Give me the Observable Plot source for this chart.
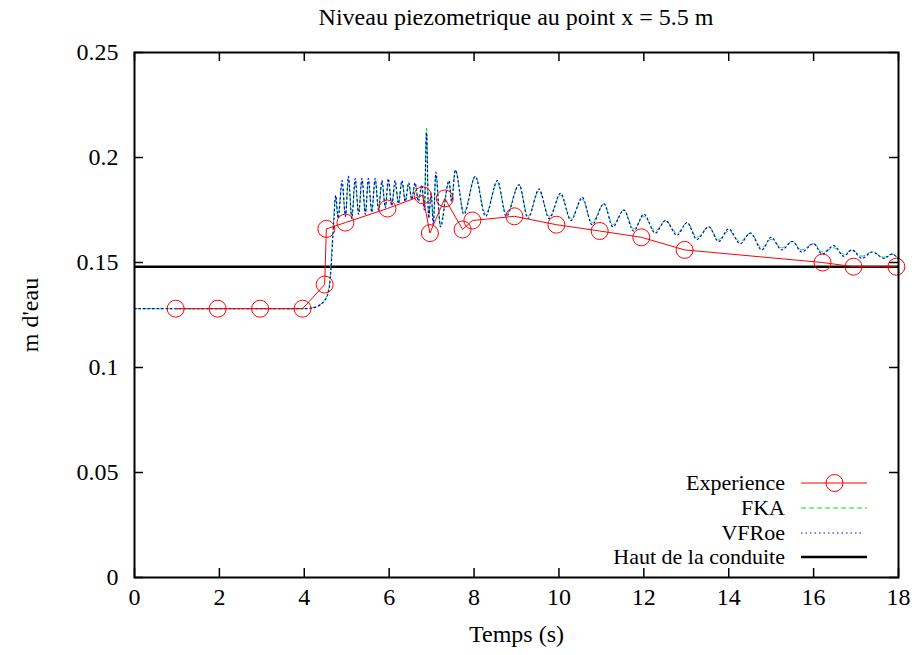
<!DOCTYPE html>
<html>
<head>
<meta charset="utf-8">
<script src="https://cdn.jsdelivr.net/npm/d3@7"></script>
<script src="https://cdn.jsdelivr.net/npm/@observablehq/plot@0.6"></script>
<style>
  body { margin: 0; background: #fff; font-family: "Liberation Serif", "DejaVu Serif", serif; }
  #title { height: 34px; line-height: 34px; margin-left: 134px; width: 764px; text-align: center; font-size: 24px; color: #000; font-family: "Liberation Serif", "DejaVu Serif", serif; }
</style>
</head>
<body>
<div id="title">Niveau piezometrique au point x = 5.5 m</div>
<div id="chart"></div>
<script>
// ---- Data ----
const xTicks = [0, 2, 4, 6, 8, 10, 12, 14, 16, 18];
const yTicks = [0, 0.05, 0.1, 0.15, 0.2, 0.25];
const yTickLabels = ["0", "0.05", "0.1", "0.15", "0.2", "0.25"];

const expT = [0.97, 1.96, 2.96, 3.96, 4.48, 4.52, 4.97, 5.96, 6.79, 6.96, 7.31, 7.73, 7.96, 8.95, 9.94, 10.96, 11.94, 12.96, 16.21, 16.94, 17.95];
const expH = [0.128, 0.128, 0.128, 0.128, 0.1395, 0.166, 0.169, 0.1757, 0.182, 0.164, 0.1805, 0.1657, 0.170, 0.172, 0.168, 0.165, 0.162, 0.156, 0.150, 0.148, 0.148];

const fkaT = [0, 3.9, 4.1, 4.3, 4.45, 4.54, 4.60, 4.63, 4.66, 4.69, 4.73, 4.79, 4.89, 4.97, 5.04, 5.12, 5.20, 5.28, 5.36, 5.44, 5.51, 5.59, 5.67, 5.75, 5.83, 5.91, 5.98, 6.06, 6.14, 6.22, 6.30, 6.38, 6.46, 6.53, 6.61, 6.69, 6.77, 6.83, 6.88, 6.93, 6.99, 7.04, 7.10, 7.20, 7.41, 7.47, 7.56, 7.76, 8.03, 8.27, 8.55, 8.76, 9.06, 9.27, 9.53, 9.77, 10.04, 10.28, 10.55, 10.78, 11.06, 11.27, 11.53, 11.76, 12.0, 12.27, 12.51, 12.78, 13.02, 13.25, 13.53, 13.76, 14.0, 14.27, 14.51, 14.78, 15.0, 15.25, 15.5, 15.72, 16.0, 16.2, 16.48, 16.71, 16.9, 17.14, 17.38, 17.66, 17.85, 18.0];
const fkaH = [0.128, 0.128, 0.1282, 0.1292, 0.1315, 0.135, 0.141, 0.150, 0.160, 0.170, 0.181, 0.172, 0.187, 0.173, 0.189, 0.172, 0.188, 0.174, 0.189, 0.174, 0.188, 0.175, 0.189, 0.176, 0.188, 0.177, 0.188, 0.178, 0.187, 0.179, 0.188, 0.180, 0.187, 0.181, 0.187, 0.180, 0.186, 0.176, 0.214, 0.172, 0.182, 0.170, 0.192, 0.168, 0.188, 0.180, 0.194, 0.174, 0.191, 0.173, 0.188, 0.173, 0.187, 0.172, 0.184, 0.172, 0.182, 0.171, 0.180, 0.169, 0.178, 0.168, 0.175, 0.166, 0.172, 0.165, 0.170, 0.164, 0.169, 0.162, 0.167, 0.161, 0.165, 0.160, 0.164, 0.157, 0.161, 0.157, 0.160, 0.156, 0.159, 0.155, 0.157, 0.154, 0.156, 0.153, 0.155, 0.1525, 0.154, 0.152];

const vfrT = [0, 3.9, 4.1, 4.3, 4.45, 4.54, 4.60, 4.64, 4.67, 4.70, 4.74, 4.80, 4.89, 4.97, 5.04, 5.12, 5.20, 5.28, 5.36, 5.44, 5.51, 5.59, 5.67, 5.75, 5.83, 5.91, 5.98, 6.06, 6.14, 6.22, 6.30, 6.38, 6.46, 6.53, 6.61, 6.69, 6.77, 6.83, 6.88, 6.93, 6.99, 7.04, 7.10, 7.21, 7.41, 7.47, 7.56, 7.76, 8.03, 8.27, 8.55, 8.76, 9.06, 9.27, 9.53, 9.77, 10.04, 10.28, 10.55, 10.78, 11.06, 11.27, 11.53, 11.76, 12.0, 12.27, 12.51, 12.78, 13.02, 13.25, 13.53, 13.76, 14.0, 14.27, 14.51, 14.78, 15.0, 15.25, 15.5, 15.72, 16.0, 16.2, 16.48, 16.71, 16.9, 17.14, 17.38, 17.66, 17.85, 18.0];
const vfrH = [0.128, 0.128, 0.1281, 0.1290, 0.1312, 0.134, 0.140, 0.150, 0.161, 0.171, 0.182, 0.171, 0.189, 0.172, 0.191, 0.171, 0.190, 0.173, 0.190, 0.173, 0.190, 0.174, 0.190, 0.175, 0.189, 0.176, 0.190, 0.177, 0.189, 0.178, 0.189, 0.179, 0.188, 0.180, 0.188, 0.179, 0.187, 0.175, 0.212, 0.171, 0.183, 0.168, 0.193, 0.167, 0.189, 0.179, 0.194, 0.173, 0.191, 0.172, 0.189, 0.172, 0.187, 0.171, 0.185, 0.171, 0.183, 0.170, 0.181, 0.168, 0.178, 0.167, 0.175, 0.165, 0.173, 0.164, 0.170, 0.163, 0.169, 0.161, 0.167, 0.160, 0.166, 0.159, 0.164, 0.156, 0.162, 0.156, 0.160, 0.155, 0.159, 0.154, 0.158, 0.153, 0.156, 0.152, 0.155, 0.152, 0.154, 0.1515];

const hautH = 0.148;

const seriesNames = ["Experience", "FKA", "VFRoe", "Haut de la conduite"];
const seriesColors = ["#ff0000", "#00e600", "#0000ff", "#000000"];

// ---- Tables ----
const exp = expT.map((t, i) => ({t, h: expH[i]}));
const fka = fkaT.map((t, i) => ({t, h: fkaH[i]}));
const vfr = vfrT.map((t, i) => ({t, h: vfrH[i]}));

const FONT = "'Liberation Serif', 'DejaVu Serif', serif";
const FS = 24;
const LFS = 22;

// geometry
const W = 914, H = 621, mL = 134, mR = 16, mT = 18, mB = 78;
const xDom = [0, 18], yDom = [0, 0.25];
const tickPx = 9;
const tx = tickPx / (W - mL - mR) * (xDom[1] - xDom[0]);
const ty = tickPx / (H - mT - mB) * (yDom[1] - yDom[0]);

const plot = Plot.plot({
  width: W, height: H,
  marginLeft: mL, marginRight: mR, marginTop: mT, marginBottom: mB,
  style: {fontFamily: FONT, fontSize: FS + "px", background: "white", color: "black", overflow: "visible"},
  x: {domain: xDom},
  y: {domain: yDom},
  marks: [
    Plot.axisX({ticks: xTicks, tickSize: 0, tickPadding: 10, tickFormat: d => String(d), label: "Temps (s)", labelArrow: "none", labelAnchor: "center", labelOffset: 64, fontSize: FS}),
    Plot.axisY({ticks: yTicks, tickSize: 0, tickPadding: 16, tickFormat: d => yTickLabels[yTicks.indexOf(d)], label: "m d'eau", labelArrow: "none", labelAnchor: "center", labelOffset: 114, fontSize: FS}),
    // inward ticks (bottom, top, left, right)
    Plot.ruleX(xTicks, {x: d => d, y1: yDom[0], y2: yDom[0] + ty, stroke: "black", strokeWidth: 1.5}),
    Plot.ruleX(xTicks, {x: d => d, y1: yDom[1] - ty, y2: yDom[1], stroke: "black", strokeWidth: 1.5}),
    Plot.ruleY(yTicks, {y: d => d, x1: xDom[0], x2: xDom[0] + tx, stroke: "black", strokeWidth: 1.5}),
    Plot.ruleY(yTicks, {y: d => d, x1: xDom[1] - tx, x2: xDom[1], stroke: "black", strokeWidth: 1.5}),
    Plot.ruleY([hautH], {stroke: "black", strokeWidth: 2.5}),
    Plot.line(fka, {x: "t", y: "h", stroke: seriesColors[1], strokeWidth: 1, strokeDasharray: "5,3", curve: "monotone-x"}),
    Plot.line(vfr, {x: "t", y: "h", stroke: seriesColors[2], strokeWidth: 1.2, strokeDasharray: "1.5,3", curve: "monotone-x"}),
    Plot.line(exp, {x: "t", y: "h", stroke: seriesColors[0], strokeWidth: 1}),
    Plot.dot(exp, {x: "t", y: "h", r: 8.5, stroke: seriesColors[0], fill: "none", strokeWidth: 1}),
    Plot.frame({stroke: "black", strokeWidth: 2})
  ]
});

// ---- Legend (inside plot, bottom right) ----
const svg = d3.select(plot);
const lg = svg.append("g").attr("font-family", FONT).attr("font-size", LFS);
const rowY = [449, 474, 498.5, 523];
const textX = 785, s0 = 801, s1 = 867;
seriesNames.forEach((name, i) => {
  const y = rowY[i];
  lg.append("text").attr("x", textX).attr("y", y).attr("dy", "0.33em").attr("text-anchor", "end").attr("fill", "black").text(name);
  const ln = lg.append("line").attr("x1", s0).attr("x2", s1).attr("y1", Math.round(y)).attr("y2", Math.round(y)).attr("stroke", seriesColors[i]);
  if (i === 0) {
    ln.attr("stroke-width", 1);
    lg.append("circle").attr("cx", 834.5).attr("cy", Math.round(y)).attr("r", 8.5).attr("fill", "none").attr("stroke", seriesColors[0]);
  } else if (i === 1) {
    ln.attr("stroke-width", 1).attr("stroke-dasharray", "5,3");
  } else if (i === 2) {
    ln.attr("stroke-width", 1.2).attr("stroke-dasharray", "1.5,3").attr("x2", s1 - 4);
  } else {
    ln.attr("stroke-width", 2.5);
  }
});

document.getElementById("chart").appendChild(plot);
</script>
</body>
</html>
